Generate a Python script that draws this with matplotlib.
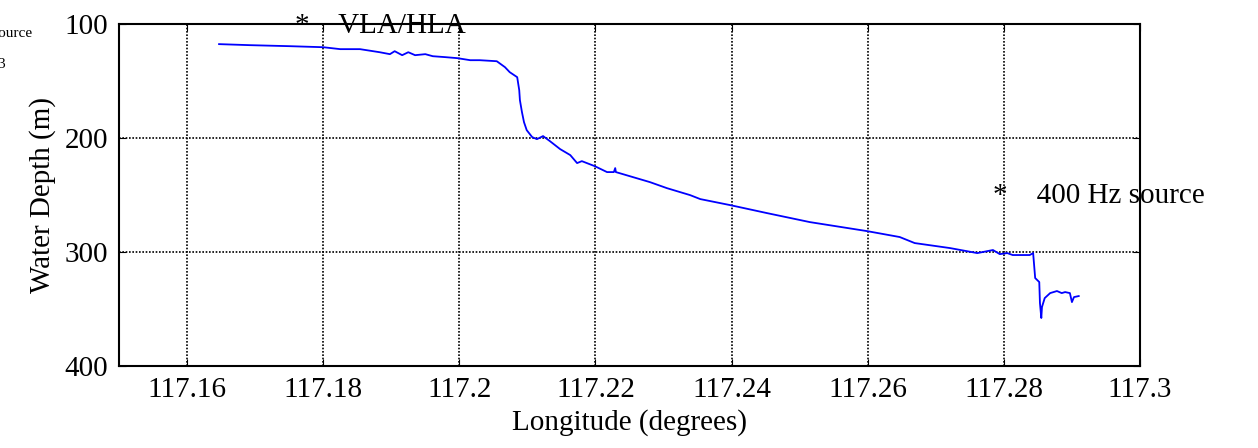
import numpy as np
import matplotlib.pyplot as plt

plt.rcParams['font.family'] = ['Liberation Serif', 'DejaVu Serif']

# bathymetry track (longitude in degrees, depth in m)
lon = [117.1647, 117.1692, 117.1751, 117.1800, 117.1825, 117.1854, 117.1883,
       117.1898, 117.1905, 117.1916, 117.1925, 117.1935, 117.1950, 117.1961,
       117.1979, 117.1997, 117.2016, 117.2030, 117.2055, 117.2067, 117.2074,
       117.2085, 117.2088, 117.2089, 117.2092, 117.2095, 117.2099, 117.2107,
       117.2114, 117.2123, 117.2133, 117.2148, 117.2163, 117.2173, 117.2180,
       117.2199, 117.2217, 117.2227, 117.2229, 117.2230, 117.2255, 117.2280,
       117.2305, 117.2339, 117.2354, 117.2398, 117.2452, 117.2515, 117.2599,
       117.2647, 117.2669, 117.2721, 117.2761, 117.2784, 117.2794, 117.2805,
       117.2813, 117.2838, 117.2843, 117.2846, 117.2852, 117.2853, 117.2855,
       117.2856, 117.2860, 117.2868, 117.2878, 117.2885, 117.2890, 117.2897,
       117.2900, 117.2903, 117.2910]
depth = [117.5, 118.4, 119.3, 120.2, 121.9, 121.9, 124.6,
         126.3, 123.7, 127.2, 124.6, 127.2, 126.3, 128.1,
         128.9, 129.8, 131.6, 131.6, 132.5, 137.7, 142.1,
         146.5, 157.9, 166.7, 177.2, 186.0, 193.0, 199.1,
         200.9, 198.2, 202.6, 209.6, 214.9, 221.9, 220.2,
         224.6, 229.8, 229.8, 226.3, 229.8, 234.2, 238.6,
         243.9, 250.0, 253.5, 258.8, 265.8, 273.7, 281.6,
         286.8, 292.1, 296.5, 300.9, 298.2, 301.8, 300.9,
         302.6, 302.6, 300.9, 322.8, 326.3, 344.7, 357.9,
         348.2, 340.4, 336.0, 334.2, 336.0, 335.1, 336.0,
         343.9, 339.5, 338.6]

xticks = [117.16, 117.18, 117.2, 117.22, 117.24, 117.26, 117.28, 117.3]
xticklabels = ['117.16', '117.18', '117.2', '117.22', '117.24', '117.26', '117.28', '117.3']
yticks = [100, 200, 300, 400]

# markers: (lon, depth, label)
vla = (117.1759, 107.9, '*    VLA/HLA')
src = (117.2784, 257.0, '*    400 Hz source')

fig = plt.figure(figsize=(12.58, 4.48), dpi=100)
ax = fig.add_axes([0.0946, 0.183, 0.8116, 0.763])

ax.plot(lon, depth, color='#0000ff', lw=1.3)

ax.set_xlim(117.15, 117.3)
ax.set_ylim(400, 100)
ax.set_xticks(xticks)
ax.set_xticklabels(xticklabels)
ax.set_yticks(yticks)
ax.grid(True, color='black', linestyle=(0, (1, 1)), linewidth=1.2)
ax.tick_params(direction='in', top=True, right=True, length=5, labelsize=21, pad=8)
for s in ax.spines.values():
    s.set_linewidth(1.5)

ax.set_xlabel('Longitude (degrees)', fontsize=21)
ax.set_ylabel('Water Depth (m)', fontsize=21, labelpad=6)

ax.text(vla[0], vla[1], vla[2], fontsize=21, va='baseline', clip_on=False)
ax.text(src[0], src[1], src[2], fontsize=21, va='baseline', clip_on=False)

# leftovers cut by the left edge, as in the original
fig.text(32 / 1258, 1 - 37 / 448, '400 Hz source', fontsize=11, ha='right', va='baseline')
fig.text(5 / 1258, 1 - 68 / 448, '3', fontsize=11, ha='right', va='baseline')

fig.savefig('out.png', dpi=100)
